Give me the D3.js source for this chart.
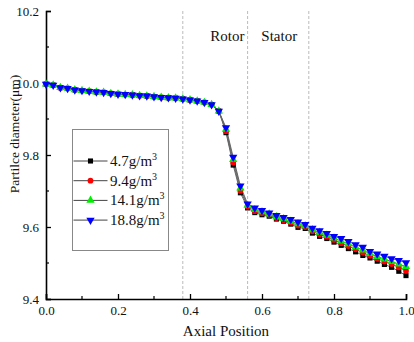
<!DOCTYPE html>
<html>
<head>
<meta charset="utf-8">
<script src="https://cdn.jsdelivr.net/npm/d3@7"></script>
<style>
  body { margin: 0; background: #fff; }
  svg text { font-family: "Liberation Serif", "Times New Roman", "DejaVu Serif", serif; }
</style>
</head>
<body>
<div id="chart"></div>
<script>
var width = 414
var height = 342

// axial positions 0, 0.02 ... 1.0
const positions = d3.range(51).map(i => i / 50);

// common part of the profile, 0 to 0.48
const inlet = [9.997, 9.994, 9.987, 9.985, 9.981, 9.979, 9.977, 9.975, 9.974, 9.971,
               9.969, 9.968, 9.967, 9.965, 9.964, 9.962, 9.960, 9.959, 9.958, 9.956,
               9.953, 9.950, 9.946, 9.940, 9.922];

// 0.50 to 1.0 for each concentration
const d47 = [9.862, 9.772, 9.695, 9.653, 9.640, 9.634, 9.630, 9.622, 9.616, 9.608, 9.599, 9.596,
             9.583, 9.574, 9.568, 9.558, 9.549, 9.540, 9.531, 9.521, 9.514, 9.505, 9.496, 9.488, 9.477, 9.465];
const d94 = [9.866, 9.779, 9.701, 9.657, 9.644, 9.638, 9.633, 9.625, 9.619, 9.612, 9.604, 9.600,
             9.588, 9.579, 9.573, 9.564, 9.555, 9.547, 9.538, 9.529, 9.520, 9.512, 9.504, 9.497, 9.488, 9.478];
const d141 = [9.871, 9.787, 9.708, 9.660, 9.648, 9.642, 9.636, 9.628, 9.623, 9.616, 9.609, 9.603,
              9.592, 9.585, 9.577, 9.569, 9.561, 9.553, 9.544, 9.536, 9.526, 9.518, 9.511, 9.504, 9.497, 9.490];
const d188 = [9.876, 9.794, 9.714, 9.664, 9.653, 9.646, 9.639, 9.632, 9.627, 9.621, 9.614, 9.607,
              9.597, 9.590, 9.582, 9.574, 9.568, 9.560, 9.551, 9.544, 9.532, 9.525, 9.519, 9.512, 9.507, 9.501];

const seriesNames = ["4.7", "9.4", "14.1", "18.8"];
const seriesColors = ["#000000", "#ff0000", "#00ee00", "#0000ff"];
const seriesSymbols = [d3.symbolSquare, d3.symbolCircle, d3.symbolTriangle, d3.symbolTriangle];
const seriesTails = [d47, d94, d141, d188];

const boundaries = [0.38, 0.56, 0.73];
const regionLabels = [{ text: "Rotor", at: 0.504 }, { text: "Stator", at: 0.648 }];

const xTicks = [0, 0.2, 0.4, 0.6, 0.8, 1.0];
const yTicks = [9.4, 9.6, 9.8, 10.0, 10.2];

const margin = { top: 11, right: 8, bottom: 43, left: 46 };
const innerWidth = 360;
const innerHeight = 288;

var svg = d3.select("#chart").append("svg")
    .attr("width", width)
    .attr("height", height)

const g = svg.append("g")
    .attr("transform", `translate(${margin.left}, ${margin.top})`)

const xScale = d3.scaleLinear().domain([0, 1]).range([0, innerWidth]);
const yScale = d3.scaleLinear().domain([9.4, 10.2]).range([innerHeight, 0]);

// dashed zone boundaries
g.selectAll(".zone").data(boundaries)
  .enter().append("line")
    .attr("x1", d => xScale(d)).attr("x2", d => xScale(d))
    .attr("y1", 0).attr("y2", innerHeight)
    .attr("stroke", "#bbb")
    .attr("stroke-width", 1)
    .attr("stroke-dasharray", "3,2");

g.selectAll(".region").data(regionLabels)
  .enter().append("text")
    .attr("x", d => xScale(d.at))
    .attr("y", 30)
    .attr("text-anchor", "middle")
    .attr("font-size", 15)
    .attr("fill", "#111")
    .text(d => d.text);

// axes: major ticks inward, minor ticks in between
const xAxis = d3.axisBottom(xScale).tickValues(xTicks).tickSize(-5).tickPadding(7)
    .tickFormat(d3.format(".1f"));
const yAxis = d3.axisLeft(yScale).tickValues(yTicks).tickSize(-5).tickPadding(7)
    .tickFormat(d3.format(".1f"));

const xAxisG = g.append("g").attr("transform", `translate(0, ${innerHeight})`).call(xAxis);
const yAxisG = g.append("g").call(yAxis);

[xAxisG, yAxisG].forEach(a => {
  a.attr("font-family", null);
  a.select(".domain").attr("stroke", "#000").attr("stroke-width", 1.6);
  a.selectAll(".tick line").attr("stroke", "#000").attr("stroke-width", 1.3);
  a.selectAll(".tick text").attr("font-size", 13).attr("fill", "#111");
});

g.selectAll(".xminor").data([0.1, 0.3, 0.5, 0.7, 0.9])
  .enter().append("line")
    .attr("x1", d => xScale(d)).attr("x2", d => xScale(d))
    .attr("y1", innerHeight).attr("y2", innerHeight - 3)
    .attr("stroke", "#000").attr("stroke-width", 1.2);

g.selectAll(".yminor").data([9.5, 9.7, 9.9, 10.1])
  .enter().append("line")
    .attr("x1", 0).attr("x2", 3)
    .attr("y1", d => yScale(d)).attr("y2", d => yScale(d))
    .attr("stroke", "#000").attr("stroke-width", 1.2);

svg.append("text")
    .attr("x", margin.left + innerWidth / 2)
    .attr("y", 336)
    .attr("text-anchor", "middle")
    .attr("font-size", 15)
    .attr("fill", "#111")
    .text("Axial Position");

svg.append("text")
    .attr("transform", "translate(19, 134) rotate(-90)")
    .attr("text-anchor", "middle")
    .attr("font-size", 13.5)
    .attr("fill", "#111")
    .text("Partilce diameter(μm)");

// series
const series = seriesNames.map((name, i) => ({
  name: name,
  color: seriesColors[i],
  symbol: seriesSymbols[i],
  flip: i === 3,
  values: positions.map((p, j) => ({ x: p, y: j < inlet.length ? inlet[j] : seriesTails[i][j - inlet.length] }))
}));

const line = d3.line().x(d => xScale(d.x)).y(d => yScale(d.y));

const sizes = { "4.7": 26, "9.4": 26, "14.1": 30, "18.8": 30 };

series.forEach(s => {
  g.append("path")
    .datum(s.values)
    .attr("fill", "none")
    .attr("stroke", "#666")
    .attr("stroke-width", 1)
    .attr("d", line);
});

series.forEach(s => {
  g.selectAll(null).data(s.values)
    .enter().append("path")
      .attr("d", d3.symbol().type(s.symbol).size(sizes[s.name]))
      .attr("transform", d => `translate(${xScale(d.x)}, ${yScale(d.y)})` + (s.flip ? " rotate(180)" : ""))
      .attr("fill", s.color);
});

// legend
const legend = svg.append("g").attr("transform", "translate(72.5, 129.5)");
legend.append("rect")
    .attr("width", 96).attr("height", 121)
    .attr("fill", "#fff")
    .attr("stroke", "#888")
    .attr("stroke-width", 1);

const rows = legend.selectAll(".row").data(series)
  .enter().append("g")
    .attr("transform", (d, i) => `translate(0, ${31.5 + i * 19.7})`);

rows.append("line")
    .attr("x1", 1).attr("x2", 35)
    .attr("stroke", "#444").attr("stroke-width", 1);

rows.append("path")
    .attr("d", d => d3.symbol().type(d.symbol).size(sizes[d.name])())
    .attr("transform", d => "translate(18, 0)" + (d.flip ? " rotate(180)" : ""))
    .attr("fill", d => d.color);

const label = rows.append("text")
    .attr("x", 37.5)
    .attr("y", 5)
    .attr("font-size", 15)
    .attr("fill", "#111");
label.append("tspan").text(d => d.name + "g/m");
label.append("tspan").attr("dy", -6).attr("font-size", 10).text("3");
</script>
</body>
</html>
